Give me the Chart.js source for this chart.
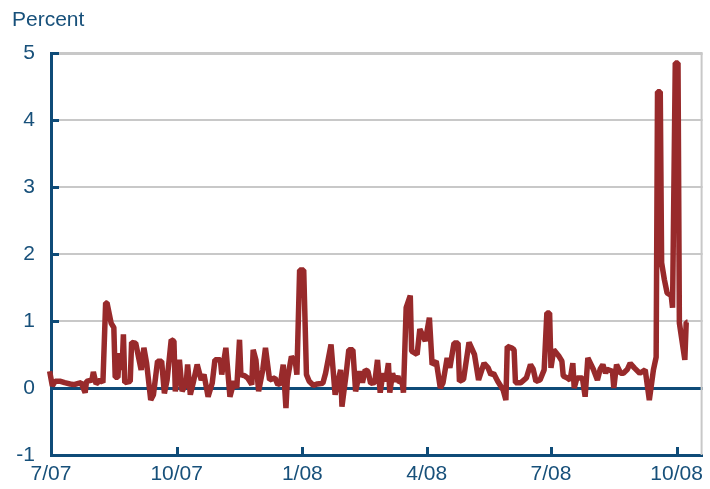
<!DOCTYPE html>
<html><head><meta charset="utf-8">
<style>html,body{margin:0;padding:0;background:#fff;}#wrap{width:710px;height:489px;position:relative}</style>
<script src="https://cdn.jsdelivr.net/npm/chart.js@4.4.0/dist/chart.umd.min.js"></script>
</head><body><div id="wrap"><canvas id="c" width="710" height="489"></canvas></div>
<script>
// days since 1 Jul 2007
const dayOffsets = [
  -3,-1,1,3,7,10,14,17,20,22,25,26,30,31,33,36,38,40,41,44,46,47,49,50,52,53,54,58,59,62,
  66,68,70,73,75,78,81,83,85,88,90,91,94,96,99,100,102,104,107,110,112,115,118,120,124,125,128,131,134,136,
  138,139,142,144,147,148,150,152,155,157,160,164,166,168,170,172,173,176,179,180,182,185,187,189,192,195,199,201,205,208,
  210,212,213,216,218,221,223,226,228,230,232,234,237,239,241,243,245,247,248,250,252,254,255,257,258,260,263,264,268,270,
  274,277,279,282,285,287,290,292,295,298,299,302,306,310,313,317,320,322,324,327,331,333,334,337,339,340,344,348,351,353,
  355,358,361,363,365,366,368,372,374,375,378,380,382,383,385,389,391,393,397,400,402,404,406,407,411,412,414,417,419,422,
  424,427,431,435,438,441,443,444,446,447,449,451,454,455,457,459,460,464,465,466
];
// spread, percent
const spreadValues = [
  0.15,0.25,0.03,0.1,0.1,0.08,0.06,0.05,0.07,0.08,-0.07,0.1,0.12,0.24,0.06,0.12,0.08,1.27,1.27,0.97,0.9,0.16,0.16,0.52,0.27,0.8,0.08,0.1,0.68,0.67,
  0.27,0.6,0.37,-0.18,-0.1,0.4,0.4,-0.08,0.12,0.72,0.7,-0.05,0.42,-0.05,0.07,0.35,-0.1,0.07,0.35,0.12,0.2,-0.13,0.07,0.42,0.42,0.2,0.6,-0.13,0.1,0.0,
  0.72,0.2,0.18,0.15,0.05,0.57,0.42,-0.05,0.27,0.6,0.12,0.15,0.05,0.07,0.35,-0.3,0.12,0.47,0.37,0.2,1.76,1.76,0.2,0.1,0.04,0.06,0.07,0.22,0.65,-0.1,
  0.08,0.27,-0.28,0.2,0.57,0.57,-0.05,0.25,0.08,0.27,0.25,0.07,0.08,0.42,-0.07,0.22,0.1,0.37,-0.07,0.22,0.1,0.18,0.08,0.1,-0.07,1.2,1.38,0.55,0.5,0.88,
  0.7,1.05,0.35,0.4,0.0,0.08,0.45,0.3,0.67,0.67,0.1,0.13,0.68,0.5,0.12,0.37,0.3,0.2,0.22,0.1,-0.03,-0.18,0.62,0.6,0.57,0.08,0.08,0.15,0.35,0.28,
  0.1,0.12,0.27,1.12,1.12,0.3,0.57,0.47,0.4,0.18,0.15,0.12,0.37,0.0,0.15,0.15,-0.13,0.45,0.28,0.12,0.28,0.35,0.22,0.28,0.25,0.0,0.35,0.22,0.22,0.28,
  0.37,0.3,0.22,0.27,-0.18,0.27,0.46,4.42,4.42,1.87,1.62,1.42,1.38,1.2,4.85,4.85,0.97,0.42,0.98,0.98
];
const tickDays = [0, 92, 184, 275, 366, 458];
const tickLabels = ['7/07', '10/07', '1/08', '4/08', '7/08', '10/08'];
const yTickValues = [-1, 0, 1, 2, 3, 4, 5];
const yAxisTitle = 'Percent';

const AXIS = '#0e4b78';
const TEXT = '#17507a';
const GRID = '#c8c8c8';
const LINE = '#982a2b';
const FONT = "'Liberation Sans', Arial, sans-serif";

const decor = {
  id: 'decor',
  beforeDatasetsDraw(chart) {
    const {ctx, chartArea: a, scales: {x, y}} = chart;
    ctx.save();
    ctx.strokeStyle = GRID; ctx.lineWidth = 2;
    ctx.beginPath(); ctx.moveTo(a.right - 1, a.top); ctx.lineTo(a.right - 1, a.bottom); ctx.stroke();
    ctx.strokeStyle = AXIS; ctx.lineWidth = 3;
    yTickValues.forEach(v => {
      const py = Math.round(y.getPixelForValue(v)) + 0.5;
      ctx.beginPath(); ctx.moveTo(a.left, py); ctx.lineTo(a.left + 8, py); ctx.stroke();
    });
    tickDays.forEach(d => {
      const px = Math.round(x.getPixelForValue(d)) + 0.5;
      ctx.beginPath(); ctx.moveTo(px, a.bottom); ctx.lineTo(px, a.bottom - 8); ctx.stroke();
    });
    ctx.restore();
  },
  afterDraw(chart) {
    const {ctx} = chart;
    ctx.save();
    ctx.fillStyle = TEXT;
    ctx.font = '21px ' + FONT;
    ctx.textBaseline = 'middle';
    ctx.textAlign = 'left';
    ctx.fillText(yAxisTitle, 12, 20);
    ctx.restore();
  }
};

new Chart(document.getElementById('c'), {
  type: 'line',
  data: {
    datasets: [{
      data: dayOffsets.map((d, i) => ({x: d, y: spreadValues[i]})),
      borderColor: LINE,
      borderWidth: 5.5,
      pointRadius: 0,
      tension: 0,
      borderJoinStyle: 'bevel',
      clip: false
    }]
  },
  options: {
    responsive: false,
    animation: false,
    devicePixelRatio: 1,
    layout: {padding: {top: 53, right: 2, left: 0, bottom: 0}},
    plugins: {legend: {display: false}, tooltip: {enabled: false}, title: {display: false}},
    scales: {
      x: {
        type: 'linear', min: 0, max: 477,
        afterBuildTicks: s => { s.ticks = tickDays.map(v => ({value: v})); },
        afterFit: s => { s.height = 34; },
        grid: {display: false, drawTicks: false},
        border: {display: true, color: AXIS, width: 3},
        ticks: {
          autoSkip: false, maxRotation: 0, padding: 7,
          color: TEXT, font: {family: FONT, size: 21},
          callback: v => tickLabels[tickDays.indexOf(v)]
        }
      },
      y: {
        type: 'linear', min: -1, max: 5,
        afterBuildTicks: s => { s.ticks = yTickValues.map(v => ({value: v})); },
        afterFit: s => { s.width = 51; },
        grid: {
          drawTicks: false,
          color: c => c.tick.value === 0 ? AXIS : (c.tick.value === -1 ? 'rgba(0,0,0,0)' : GRID),
          lineWidth: c => (c.tick.value === 0 || c.tick.value === 5) ? 3 : 2
        },
        border: {display: true, color: AXIS, width: 3},
        ticks: {padding: 16, color: TEXT, font: {family: FONT, size: 21}}
      }
    }
  },
  plugins: [decor]
});
</script>
</body></html>
